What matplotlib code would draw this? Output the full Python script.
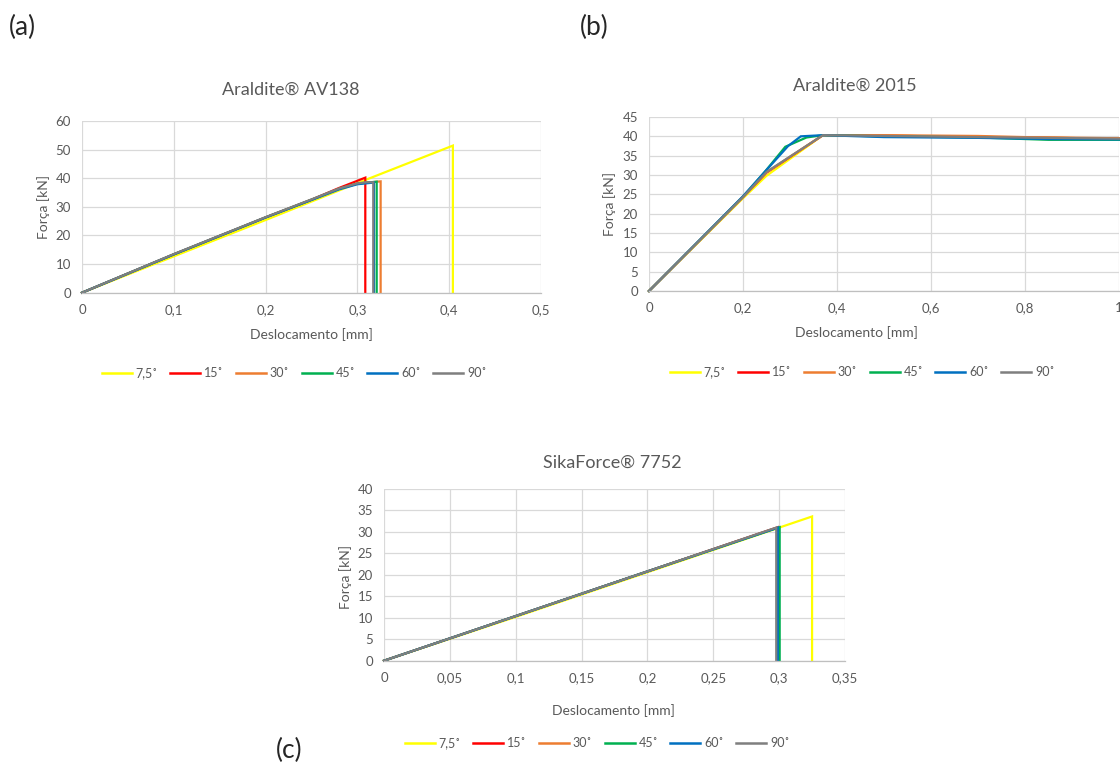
import matplotlib
matplotlib.use("Agg")
import matplotlib.pyplot as plt
from matplotlib.lines import Line2D

plt.rcParams['font.family'] = ['Lato', 'DejaVu Sans']

# ---- series labels and colours -------------------------------------------
angles = ["7,5˚", "15˚", "30˚", "45˚", "60˚", "90˚"]
colors = ["#FFFF00", "#FF0000", "#ED7D31", "#00B050", "#0070C0", "#7F7F7F"]

# ---- Araldite AV138 (displacement mm, force kN) --------------------------
av138_x_75 = [0, 0.1, 0.2, 0.3, 0.404, 0.404]
av138_y_75 = [0, 12.7, 25.4, 38.3, 51.4, 0]
av138_x_15 = [0, 0.1, 0.2, 0.25, 0.28, 0.3086, 0.3086]
av138_y_15 = [0, 13.4, 26.3, 32.5, 36.6, 40.2, 0]
av138_x_30 = [0, 0.1, 0.2, 0.25, 0.28, 0.30, 0.3253, 0.3253]
av138_y_30 = [0, 13.4, 26.3, 32.5, 36.3, 38.2, 38.9, 0]
av138_x_45 = [0, 0.1, 0.2, 0.25, 0.28, 0.30, 0.321, 0.321]
av138_y_45 = [0, 13.4, 26.3, 32.5, 36.3, 38.1, 38.8, 0]
av138_x_60 = [0, 0.1, 0.2, 0.25, 0.28, 0.30, 0.318, 0.318]
av138_y_60 = [0, 13.4, 26.3, 32.4, 36.1, 37.9, 38.5, 0]
av138_x_90 = [0, 0.1, 0.2, 0.25, 0.28, 0.30, 0.31, 0.3173, 0.3173]
av138_y_90 = [0, 13.5, 26.4, 32.6, 36.4, 38.2, 38.6, 38.6, 0]

# ---- Araldite 2015 --------------------------------------------------------
a2015_x_75 = [0, 0.2, 0.25, 0.37, 0.5, 0.6, 0.8, 1.0]
a2015_y_75 = [0, 24.0, 29.8, 40.3, 40.2, 40.0, 39.7, 39.4]
a2015_x_15 = [0, 0.2, 0.25, 0.37, 0.5, 0.6, 0.8, 1.0]
a2015_y_15 = [0, 24.3, 30.6, 40.3, 40.2, 40.0, 39.7, 39.4]
a2015_x_30 = [0, 0.2, 0.25, 0.37, 0.5, 0.7, 0.8, 1.0]
a2015_y_30 = [0, 24.3, 30.7, 40.3, 40.3, 40.1, 39.8, 39.5]
a2015_x_45 = [0, 0.2, 0.247, 0.29, 0.335, 0.37, 0.5, 0.7, 0.85, 1.0]
a2015_y_45 = [0, 24.4, 30.9, 37.3, 39.7, 40.3, 40.0, 39.7, 39.1, 39.1]
a2015_x_60 = [0, 0.2, 0.247, 0.296, 0.323, 0.37, 0.5, 0.7, 0.85, 1.0]
a2015_y_60 = [0, 24.5, 30.9, 37.5, 40.0, 40.3, 39.8, 39.6, 39.3, 39.2]
a2015_x_90 = [0, 0.2, 0.25, 0.37, 0.5, 0.7, 0.85, 1.0]
a2015_y_90 = [0, 24.3, 30.8, 40.3, 40.1, 39.8, 39.6, 39.4]

# ---- SikaForce 7752 -------------------------------------------------------
sf_x_75 = [0, 0.1, 0.2, 0.3, 0.325, 0.325]
sf_y_75 = [0, 10.2, 20.6, 31.0, 33.6, 0]
sf_x_15 = [0, 0.1, 0.2, 0.299, 0.299]
sf_y_15 = [0, 10.4, 20.8, 31.1, 0]
sf_x_30 = [0, 0.1, 0.2, 0.2995, 0.2995]
sf_y_30 = [0, 10.4, 20.8, 31.1, 0]
sf_x_45 = [0, 0.1, 0.2, 0.3004, 0.3004]
sf_y_45 = [0, 10.4, 20.8, 31.1, 0]
sf_x_60 = [0, 0.1, 0.2, 0.299, 0.299]
sf_y_60 = [0, 10.4, 20.8, 31.0, 0]
sf_x_90 = [0, 0.1, 0.2, 0.2978, 0.2978]
sf_y_90 = [0, 10.4, 20.8, 31.0, 0]

# ---- axis ticks -----------------------------------------------------------
av138_xticks = [0, 0.1, 0.2, 0.3, 0.4, 0.5]
av138_yticks = [0, 10, 20, 30, 40, 50, 60]
a2015_xticks = [0, 0.2, 0.4, 0.6, 0.8, 1.0]
a2015_yticks = [0, 5, 10, 15, 20, 25, 30, 35, 40, 45]
sf_xticks = [0, 0.05, 0.1, 0.15, 0.2, 0.25, 0.3, 0.35]
sf_yticks = [0, 5, 10, 15, 20, 25, 30, 35, 40]

TXT = "#595959"
GRID = "#D9D9D9"
W, H = 1120, 767

fig = plt.figure(figsize=(W / 100, H / 100), dpi=100)


def px(x, y):
    return x / W, 1 - y / H


def box(left, top, right, bottom):
    return [left / W, 1 - bottom / H, (right - left) / W, (bottom - top) / H]


def fmt(v):
    return f"{v:g}".replace(".", ",")


def panel(rect, xs, ys, xticks, yticks):
    ax = fig.add_axes(rect)
    for x, y, c in zip(xs, ys, colors):
        ax.plot(x, y, color=c, lw=1.6, solid_joinstyle="miter")
    ax.set_xlim(xticks[0], xticks[-1])
    ax.set_ylim(yticks[0], yticks[-1])
    ax.set_xticks(xticks)
    ax.set_xticklabels([fmt(v) for v in xticks])
    ax.set_yticks(yticks)
    ax.set_yticklabels([fmt(v) for v in yticks])
    ax.tick_params(length=0, labelsize=9.5, labelcolor=TXT, pad=8)
    ax.grid(True, color=GRID, lw=0.9)
    ax.set_axisbelow(True)
    for s in ("top", "right", "left"):
        ax.spines[s].set_visible(False)
    ax.spines["bottom"].set_color("#BFBFBF")
    ax.spines["bottom"].set_linewidth(0.9)
    for line in ax.get_lines():
        line.set_clip_on(False)
    return ax


panel(box(82, 121, 541, 292.7),
      [av138_x_75, av138_x_15, av138_x_30, av138_x_45, av138_x_60, av138_x_90],
      [av138_y_75, av138_y_15, av138_y_30, av138_y_45, av138_y_60, av138_y_90],
      av138_xticks, av138_yticks)
panel(box(649, 117, 1119, 291),
      [a2015_x_75, a2015_x_15, a2015_x_30, a2015_x_45, a2015_x_60, a2015_x_90],
      [a2015_y_75, a2015_y_15, a2015_y_30, a2015_y_45, a2015_y_60, a2015_y_90],
      a2015_xticks, a2015_yticks)
panel(box(384, 489, 845, 660.7),
      [sf_x_75, sf_x_15, sf_x_30, sf_x_45, sf_x_60, sf_x_90],
      [sf_y_75, sf_y_15, sf_y_30, sf_y_45, sf_y_60, sf_y_90],
      sf_xticks, sf_yticks)

# titles
fig.text(*px(291, 90), "Araldite® AV138", ha="center", va="center", fontsize=13, color=TXT)
fig.text(*px(855, 86), "Araldite® 2015", ha="center", va="center", fontsize=13, color=TXT)
fig.text(*px(612, 463), "SikaForce® 7752", ha="center", va="center", fontsize=13, color=TXT)

# axis titles
for (x, y) in [(311, 335), (856, 333), (613, 711)]:
    fig.text(*px(x, y), "Deslocamento [mm]", ha="center", va="center", fontsize=10, color=TXT)
for (x, y) in [(44, 207), (610, 204), (346, 577)]:
    fig.text(*px(x, y), "Força [kN]", ha="center", va="center", rotation=90, fontsize=10, color=TXT)

# legends
handles = [Line2D([], [], color=c, lw=1.8) for c in colors]
for (x, y) in [(294, 373), (862, 372), (597, 743)]:
    fig.legend(handles, angles, loc="center", bbox_to_anchor=px(x, y), ncol=6,
               frameon=False, fontsize=9, handlelength=2.4, handletextpad=0.3,
               columnspacing=1.0, labelcolor=TXT, borderaxespad=0, borderpad=0)

# panel letters
fig.text(*px(22, 27), "(a)", ha="center", va="center", fontsize=19, color="#262626")
fig.text(*px(594, 27), "(b)", ha="center", va="center", fontsize=19, color="#262626")
fig.text(*px(289, 750), "(c)", ha="center", va="center", fontsize=19, color="#262626")

fig.savefig("out.png", dpi=100)
